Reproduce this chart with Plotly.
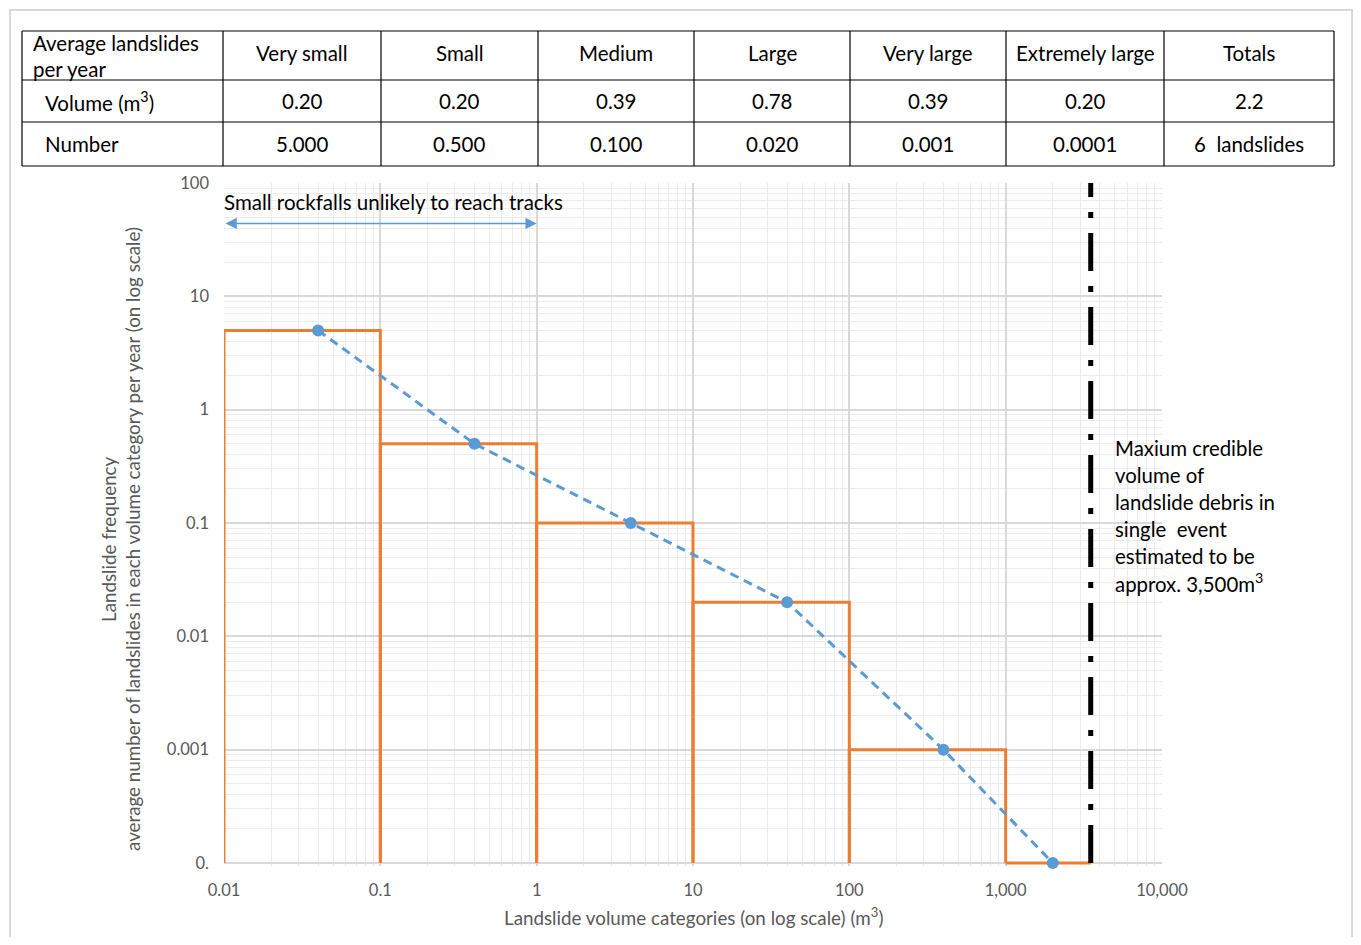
import math
import plotly.graph_objects as go

# ---------------- data ----------------
table_header = ["Very small", "Small", "Medium", "Large", "Very large", "Extremely large", "Totals"]
header_label = ["Average landslides", "per year"]
row_labels = ["Volume (m<sup>3</sup>)", "Number"]
row_volume = ["0.20", "0.20", "0.39", "0.78", "0.39", "0.20", "2.2"]
row_number = ["5.000", "0.500", "0.100", "0.020", "0.001", "0.0001", "6\u00a0\u00a0landslides"]

bin_edges = [0.01, 0.1, 1, 10, 100, 1000, 3500]
bin_freq = [5, 0.5, 0.1, 0.02, 0.001, 0.0001]

point_vol = [0.04, 0.4, 4, 40, 400, 2000]
point_freq = [5, 0.5, 0.1, 0.02, 0.001, 0.0001]

max_volume = 3500
freq_floor = 0.0001
freq_top = 100

x_tickvals = [0.01, 0.1, 1, 10, 100, 1000, 10000]
x_ticktext = ["0.01", "0.1", "1", "10", "100", "1,000", "10,000"]
y_tickvals = [0.0001, 0.001, 0.01, 0.1, 1, 10, 100]
y_ticktext = ["0.", "0.001", "0.01", "0.1", "1", "10", "100"]

arrow_span = [0.01, 1]
arrow_level = 44
rockfall_label = "Small rockfalls unlikely to reach tracks"
note_lines = ["Maxium credible", "volume of", "landslide debris in", "single\u00a0\u00a0event",
              "estimated to be", "approx. 3,500m<sup>3</sup>"]

# ---------------- layout helpers ----------------
W, H, OFF = 1345, 929, 8
def px(X):
    return (X - OFF) / W
def py(Y):
    return 1 - (Y - OFF) / H

FONT = "Lato"
GRAY = "#595959"
ORANGE = "#ED7D31"
BLUE = "#5B9BD5"

fig = go.Figure()

# orange step boxes
sx, sy = [], []
for i, h in enumerate(bin_freq):
    x0, x1 = bin_edges[i], bin_edges[i + 1]
    sx += [x0, x0, x1, x1, None]
    sy += [freq_floor, h, h, freq_floor, None]
fig.add_trace(go.Scatter(x=sx, y=sy, mode="lines", line=dict(color=ORANGE, width=3),
                         hoverinfo="skip", showlegend=False))

# blue dashed fitted line
fig.add_trace(go.Scatter(x=point_vol, y=point_freq, mode="lines+markers",
                         line=dict(color=BLUE, width=3, dash="9px,6px"),
                         marker=dict(color=BLUE, size=12), cliponaxis=False,
                         showlegend=False))

# black dash-dot max credible line
fig.add_trace(go.Scatter(x=[max_volume, max_volume], y=[freq_floor, freq_top], mode="lines",
                         line=dict(color="black", width=5, dash="38px,15px,6px,15px"),
                         showlegend=False))

# axes
ppd_y = (863 - 183) / 6.0
ext = 0.03
fig.update_xaxes(type="log", range=[-2, 4], domain=[px(224), px(1162)],
                 tickmode="array", tickvals=x_tickvals, ticktext=x_ticktext,
                 showgrid=True, gridcolor="#d9d9d9", gridwidth=2,
                 minor=dict(showgrid=True, gridcolor="#ececec", gridwidth=1, dtick="D1"),
                 zeroline=False, showline=False, ticks="", ticklabelstandoff=12,
                 tickfont=dict(family=FONT, size=16.5, color=GRAY))
fig.update_yaxes(type="log", range=[math.log10(freq_floor) - ext, math.log10(freq_top)],
                 domain=[py(863 + ext * ppd_y), py(183)],
                 tickmode="array", tickvals=y_tickvals, ticktext=y_ticktext,
                 showgrid=True, gridcolor="#d9d9d9", gridwidth=2,
                 minor=dict(showgrid=True, gridcolor="#ececec", gridwidth=1, dtick="D1"),
                 zeroline=False, showline=False, ticks="", ticklabelstandoff=14,
                 tickfont=dict(family=FONT, size=16.5, color=GRAY))

ann = []
shapes = []

# ---------------- table ----------------
col_x = [22, 223, 381, 538, 694, 850, 1006, 1164, 1334]
row_y = [31, 80, 122, 166]
for yy in row_y:
    shapes.append(dict(type="line", xref="paper", yref="paper", x0=px(col_x[0]), x1=px(col_x[-1]),
                       y0=py(yy), y1=py(yy), line=dict(color="black", width=1.2)))
for xx in col_x:
    shapes.append(dict(type="line", xref="paper", yref="paper", x0=px(xx), x1=px(xx),
                       y0=py(row_y[0]), y1=py(row_y[-1]), line=dict(color="black", width=1.2)))
TFONT = dict(family=FONT, size=20.5, color="black")
ann.append(dict(x=px(31), y=py(43), xref="paper", yref="paper", showarrow=False, text=header_label[0],
                font=TFONT, xanchor="left", yanchor="middle"))
ann.append(dict(x=px(31), y=py(69), xref="paper", yref="paper", showarrow=False, text=header_label[1],
                font=TFONT, xanchor="left", yanchor="middle"))
row_text_y = [101, 144]
for lbl, yy in zip(row_labels, row_text_y):
    ann.append(dict(x=px(43), y=py(yy), xref="paper", yref="paper", showarrow=False, text=lbl,
                    font=TFONT, xanchor="left", yanchor="middle"))
for j in range(len(table_header)):
    cx = (col_x[j + 1] + col_x[j + 2]) / 2
    for txt, yy in [(table_header[j], 53), (row_volume[j], row_text_y[0]), (row_number[j], row_text_y[1])]:
        ann.append(dict(x=px(cx), y=py(yy), xref="paper", yref="paper", showarrow=False, text=txt,
                        font=TFONT, xanchor="center", yanchor="middle"))

# axis titles
TITLEF = dict(family=FONT, size=18.8, color=GRAY)
ann.append(dict(x=px(693), y=py(916), xref="paper", yref="paper", showarrow=False,
                text="Landslide volume categories (on log scale) (m<sup>3</sup>)",
                font=TITLEF, xanchor="center", yanchor="middle"))
ann.append(dict(x=px(108), y=py(539), xref="paper", yref="paper", showarrow=False,
                text="Landslide frequency", textangle=-90,
                font=TITLEF, xanchor="center", yanchor="middle"))
ann.append(dict(x=px(132), y=py(539), xref="paper", yref="paper", showarrow=False,
                text="average number of landslides in each volume category per year (on log scale)",
                textangle=-90, font=TITLEF, xanchor="center", yanchor="middle"))
# rockfall label and arrow
ann.append(dict(x=px(222), y=py(202), xref="paper", yref="paper", showarrow=False,
                text=rockfall_label, font=dict(family=FONT, size=20.5, color="black"),
                xanchor="left", yanchor="middle"))
ann.append(dict(x=math.log10(arrow_span[1]), y=math.log10(arrow_level), xref="x", yref="y",
                ax=math.log10(arrow_span[0]), ay=math.log10(arrow_level), axref="x", ayref="y",
                text="", showarrow=True, arrowhead=2, arrowside="end+start", arrowsize=1.5,
                arrowwidth=1.5, arrowcolor=BLUE, standoff=0, startstandoff=0))
# note lines
note_y = [448, 475, 502, 529, 556, 582]
for t, yy in zip(note_lines, note_y):
    ann.append(dict(x=px(1113), y=py(yy), xref="paper", yref="paper", showarrow=False,
                    text=t, font=dict(family=FONT, size=20.4, color="black"),
                    xanchor="left", yanchor="middle"))

shapes.append(dict(type="rect", xref="paper", yref="paper", x0=px(10), x1=0.9993, y0=-0.01, y1=py(10),
                   line=dict(color="#d9d9d9", width=2), fillcolor="rgba(0,0,0,0)", layer="below"))

fig.update_layout(
    width=W, height=H, margin=dict(l=0, r=0, t=0, b=0, autoexpand=False),
    paper_bgcolor="white", plot_bgcolor="white",
    annotations=ann, shapes=shapes, showlegend=False,
)

fig.write_html("out.html")
